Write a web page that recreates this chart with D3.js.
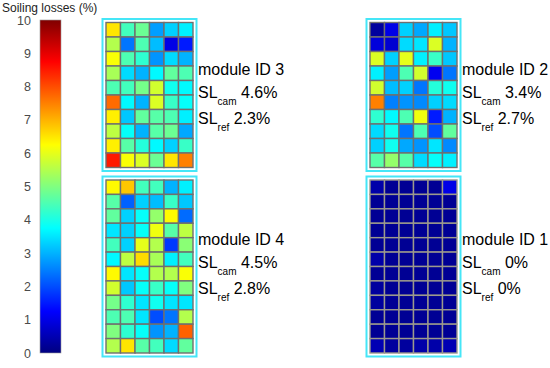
<!DOCTYPE html>
<html><head><meta charset="utf-8">
<script src="https://cdn.jsdelivr.net/npm/d3@7"></script>
<style>body{margin:0;background:#fff}svg{display:block}text{font-family:"Liberation Sans",Arial,sans-serif}</style>
</head><body><div id="chart"></div>
<script>
// ---- data ----
const module3 = [
 [6.5,4.4,4.8,2.8,3.3,3.6],
 [5.5,2.4,4.5,3.1,1.0,1.5],
 [6.2,4.5,4.2,2.7,3.4,3.0],
 [5.4,3.4,3.0,3.7,4.7,4.5],
 [4.5,4.4,4.9,5.8,3.9,3.7],
 [7.7,3.7,3.0,5.9,4.3,3.8],
 [6.4,3.2,4.7,4.6,4.5,3.6],
 [5.6,3.8,3.0,4.6,4.8,2.9],
 [6.4,4.6,4.1,3.7,3.3,4.3],
 [8.5,6.2,5.9,4.8,6.5,7.5]
];
const module2 = [
 [0.3,1.0,3.3,2.9,3.6,3.2],
 [0.9,0.8,3.4,3.5,5.9,3.0],
 [5.9,3.3,6.0,3.6,4.3,3.2],
 [3.6,2.8,4.5,5.8,1.1,2.4],
 [5.8,3.1,3.3,2.4,4.1,3.9],
 [7.5,2.5,2.7,2.6,3.3,3.4],
 [4.2,3.7,4.5,6.1,1.5,3.0],
 [3.4,3.9,2.4,4.5,2.0,4.7],
 [3.3,3.9,2.9,2.7,3.5,2.6],
 [4.6,5.2,4.6,3.4,3.8,3.6]
];
const module4 = [
 [6.3,6.8,4.4,4.4,3.0,3.6],
 [4.6,2.2,3.3,3.1,4.3,3.2],
 [4.7,3.3,3.8,5.2,6.3,2.3],
 [3.5,3.3,3.8,6.1,4.6,5.6],
 [4.4,3.3,6.0,5.5,1.8,5.1],
 [3.7,5.6,6.6,5.4,3.6,4.4],
 [6.3,3.5,3.8,5.5,5.5,6.2],
 [5.8,3.2,3.8,4.3,3.8,5.0],
 [4.9,4.2,3.5,3.9,3.5,3.5],
 [4.5,4.5,3.5,2.0,2.4,5.5],
 [5.0,4.2,3.8,2.7,3.0,7.8],
 [5.5,6.5,4.6,4.4,3.4,4.7]
];
const module1 = [
 [0.4,0.2,0.2,0.2,0.2,1.0],
 [0.2,0.2,0.2,0.2,0.2,0.2],
 [0.2,0.2,0.2,0.2,0.2,0.2],
 [0.2,0.2,0.2,0.2,0.2,0.2],
 [0.2,0.2,0.2,0.2,0.2,0.2],
 [0.4,0.2,0.2,0.2,0.2,0.2],
 [0.2,0.2,0.2,0.2,0.2,0.2],
 [0.3,0.2,0.2,0.2,0.2,0.2],
 [0.3,0.2,0.2,0.2,0.2,0.2],
 [0.2,0.2,0.2,0.2,0.2,0.2],
 [0.2,0.2,0.2,0.2,0.2,0.2],
 [0.5,0.3,0.3,0.4,0.4,0.5]
];
const moduleIds = ["3","2","4","1"];
const slCam = ["4.6%","3.4%","4.5%","0%"];
const slRef = ["2.3%","2.7%","2.8%","0%"];
const colorbarTicks = [0,1,2,3,4,5,6,7,8,9,10];
const colorbarTitle = "Soiling losses (%)";

// ---- chart ----
const W = 550, H = 368;
const svg = d3.select("#chart").append("svg").attr("width", W).attr("height", H);

const jetStops = [0, 1.25, 3.75, 6.25, 8.75, 10];
const color = d3.scaleLinear().domain(jetStops)
  .range(["#000080","#0000ff","#00ffff","#ffff00","#ff0000","#800000"])
  .interpolate(d3.interpolateRgb).clamp(true);

// colorbar
const cb = {x: 40, w: 21, top: 20, bottom: 353};
const yCb = d3.scaleLinear().domain([0, 10]).range([cb.bottom, cb.top]);
const defs = svg.append("defs");
const grad = defs.append("linearGradient").attr("id","jet")
  .attr("x1",0).attr("y1",1).attr("x2",0).attr("y2",0);
d3.range(0, 10.01, 0.25).forEach(v => {
  grad.append("stop").attr("offset", v/10).attr("stop-color", color(v));
});
svg.append("rect").attr("x", cb.x).attr("y", cb.top).attr("width", cb.w)
  .attr("height", cb.bottom - cb.top).attr("fill", "url(#jet)")
  .attr("stroke", "#9a9a9a").attr("stroke-width", 0.6);
const axis = svg.append("g").attr("transform", `translate(${cb.x - 6},0)`)
  .call(d3.axisLeft(yCb).tickValues(colorbarTicks).tickSize(0).tickFormat(d3.format("d")));
axis.select(".domain").remove();
axis.selectAll("text").attr("font-size", 12.5).attr("fill", "#4a4a4a")
  .attr("font-family", "'Liberation Sans',Arial,sans-serif");
svg.append("text").attr("x", 2).attr("y", 12).attr("font-size", 12)
  .attr("fill", "#222").text(colorbarTitle);

// modules
const panels = [
  {data: module3, x0: 106, y0: 22.5, h: 145, tx: 198, ty: 75},
  {data: module2, x0: 370, y0: 22.5, h: 145, tx: 462, ty: 75},
  {data: module4, x0: 106, y0: 180, h: 173, tx: 198, ty: 245},
  {data: module1, x0: 370, y0: 180, h: 173, tx: 462, ty: 245}
];
panels.forEach((p, i) => {
  const nr = p.data.length, nc = p.data[0].length;
  const w = 87;
  const xs = d3.scaleBand().domain(d3.range(nc)).range([p.x0, p.x0 + w]);
  const ys = d3.scaleBand().domain(d3.range(nr)).range([p.y0, p.y0 + p.h]);
  const g = svg.append("g");
  g.append("rect").attr("x", p.x0 - 3.5).attr("y", p.y0 - 3.5)
    .attr("width", w + 7).attr("height", p.h + 7)
    .attr("fill", "none").attr("stroke", "#45e6f7").attr("stroke-width", 2);
  const cells = [];
  p.data.forEach((row, r) => row.forEach((v, c) => cells.push({r, c, v})));
  g.selectAll("rect.cell").data(cells).join("rect").attr("class","cell")
    .attr("x", d => xs(d.c)).attr("y", d => ys(d.r))
    .attr("width", xs.bandwidth()).attr("height", ys.bandwidth())
    .attr("fill", d => color(d.v))
    .attr("stroke", i === 3 ? "#9c9a8c" : "#6f6f6f").attr("stroke-width", 1.4);
  const t = svg.append("g").attr("font-size", 16).attr("fill", "#000");
  t.append("text").attr("x", p.tx).attr("y", p.ty).text("module ID " + moduleIds[i]);
  const l2 = t.append("text").attr("x", p.tx).attr("y", p.ty + 23);
  l2.append("tspan").text("SL");
  l2.append("tspan").attr("font-size", 10).attr("dy", 7).text("cam");
  l2.append("tspan").attr("dy", -7).text(" " + slCam[i]);
  const l3 = t.append("text").attr("x", p.tx).attr("y", p.ty + 49);
  l3.append("tspan").text("SL");
  l3.append("tspan").attr("font-size", 10).attr("dy", 7).text("ref");
  l3.append("tspan").attr("dy", -7).text(" " + slRef[i]);
});
</script></body></html>
